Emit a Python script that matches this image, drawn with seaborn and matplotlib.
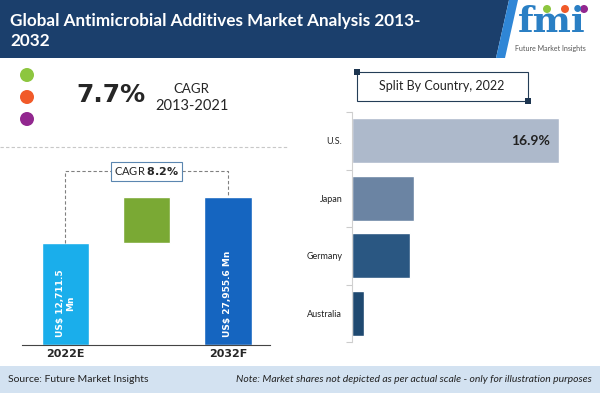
import numpy as np
import matplotlib
matplotlib.use('Agg')
import matplotlib.pyplot as plt
import seaborn as sns
import pandas as pd
from matplotlib.patches import Polygon, Rectangle, Ellipse

# data
years = ['2022E', '2032F']
market_value = [12711.5, 27955.6]          # US$ Mn
value_labels = ['US$ 12,711.5\nMn', 'US$ 27,955.6 Mn']
# bars are illustrative, not to scale: relative heights
shown_height = [1.0, 1.45]
bar_colors = ['#1aaeeb', '#1565c0']
growth_color = '#7aa934'
cagr_forecast = '8.2%'

countries = ['U.S.', 'Japan', 'Germany', 'Australia']
country_share = [16.9, 5.1, 4.7, 1.0]
country_colors = ['#adb9cb', '#6b84a3', '#2a5782', '#1f4970']

cagr_hist = '7.7%'
cagr_hist_period = '2013-2021'

sns.set_style('white')
plt.rcParams['font.family'] = ['Lato', 'DejaVu Sans']

W, H = 600, 393
fig = plt.figure(figsize=(6, 3.93), dpi=100)


def fx(px):
    return px / W


def fy(py):
    return 1 - py / H


def fpts(pts):
    return [(fx(a), fy(b)) for a, b in pts]


def dot(cx, cy, r, c):
    fig.patches.append(Ellipse((fx(cx), fy(cy)), 2 * r / W, 2 * r / H,
                               fc=c, ec='none', transform=fig.transFigure))


# header banner
fig.patches.append(Polygon(fpts([(0, 0), (509, 0), (496, 58), (0, 58)]),
                           closed=True, fc='#1b3f6c', ec='none',
                           transform=fig.transFigure))
fig.patches.append(Polygon(fpts([(509, 0), (518, 0), (505, 58), (496, 58)]),
                           closed=True, fc='#2f86d6', ec='none',
                           transform=fig.transFigure))
fig.text(fx(10), fy(21), 'Global Antimicrobial Additives Market Analysis 2013-',
         color='white', fontsize=12.3, weight='bold', va='center')
fig.text(fx(10), fy(41), '2032', color='white', fontsize=12.3,
         weight='bold', va='center')

# logo
fig.text(fx(552), fy(22), 'fmi', color='#2a7fc4', fontsize=26, weight='bold',
         family='DejaVu Serif', ha='center', va='center')
for cx, c in zip([547, 565, 584], ['#8dc63f', '#f15a29', '#92278f']):
    dot(cx, 9, 4, c)
fig.text(fx(550), fy(49), 'Future Market Insights', color='#555555',
         fontsize=5, ha='center', va='center')

# dots and historic CAGR
for cy, c in zip([75, 97, 119], ['#8dc63f', '#f15a29', '#92278f']):
    dot(27, cy, 7, c)
fig.text(fx(111), fy(95), cagr_hist, fontsize=18, weight='bold',
         family='DejaVu Sans', ha='center', va='center')
fig.text(fx(191), fy(89), 'CAGR', fontsize=9.5, ha='center', va='center')
fig.text(fx(192), fy(106), cagr_hist_period, fontsize=10.5, ha='center',
         va='center')
fig.lines.append(plt.Line2D([0, fx(287)], [fy(147), fy(147)],
                            transform=fig.transFigure, color='#c8c8c8',
                            lw=0.8, ls=(0, (3, 2))))

# left: market value waterfall
ax1 = fig.add_axes([fx(22), fy(345), (270 - 22) / W, (345 - 150) / H])
df_val = pd.DataFrame({'year': years, 'height': shown_height})
order = [years[0], ' ', years[1]]
sns.barplot(data=df_val, x='year', y='height', hue='year', order=order,
            palette=bar_colors, width=0.58, saturation=1, legend=False, ax=ax1)
ax1.bar(1, shown_height[1] - shown_height[0], bottom=shown_height[0],
        width=0.58, color=growth_color)
ax1.set_xlim(-0.535, 2.517)
ax1.set_ylim(0, 1.91)
for i, lab in zip([0, 2], value_labels):
    ax1.text(i, 0.08, lab, rotation=90, ha='center', va='bottom',
             multialignment='center', color='white', weight='bold',
             family='DejaVu Sans', fontsize=6.5)
top_line = max(shown_height) + 0.25
ax1.plot([0, 0, 2, 2], [shown_height[0], top_line, top_line, shown_height[1]],
         color='#808080', lw=0.8, ls=(0, (3, 2)), zorder=1)
ax1.text(1, top_line, 'CAGR ' + r'$\mathbf{' + cagr_forecast.replace('%', r'\%') + '}$',
         ha='center', va='center', fontsize=8,
         bbox=dict(boxstyle='square,pad=0.3', fc='white', ec='#5b86b0', lw=0.8))
ax1.set_xlabel('')
ax1.set_ylabel('')
ax1.set_yticks([])
ax1.set_xticks([0, 2])
ax1.set_xticklabels(years, weight='bold', fontsize=8, family='DejaVu Sans')
ax1.tick_params(axis='x', length=0, pad=3)
for s in ['top', 'right', 'left']:
    ax1.spines[s].set_visible(False)
ax1.spines['bottom'].set_color('#444444')
ax1.spines['bottom'].set_linewidth(0.8)

# right: split by country
ax2 = fig.add_axes([fx(352), fy(342), (570 - 352) / W, (342 - 112) / H])
df_c = pd.DataFrame({'country': countries, 'share': country_share})
sns.barplot(data=df_c, x='share', y='country', hue='country', orient='h',
            palette=country_colors, width=0.78, saturation=1, legend=False,
            ax=ax2)
ax2.set_ylim(3.5, -0.5)
ax2.set_xlim(0, 17.8)
ax2.text(country_share[0] - 0.7, 0, '%.1f%%' % country_share[0],
         ha='right', va='center', weight='bold', fontsize=10, color='#222222')
ax2.set_xlabel('')
ax2.set_ylabel('')
ax2.set_xticks([])
ax2.set_yticks(np.arange(len(countries) + 1) - 0.5, minor=True)
ax2.tick_params(axis='y', which='major', length=0, pad=7, labelsize=6.5,
                labelcolor='#222222')
ax2.tick_params(axis='y', which='minor', length=4, color='#cccccc',
                width=0.8, left=True)
for s in ['top', 'right', 'bottom']:
    ax2.spines[s].set_visible(False)
ax2.spines['left'].set_color('#d0d0d0')
ax2.spines['left'].set_linewidth(0.8)

# split box
fig.patches.append(Rectangle((fx(357), fy(101)), (528 - 357) / W, 29 / H,
                             fc='white', ec='#243d57', lw=0.8,
                             transform=fig.transFigure))
for px, py in [(357, 72), (528, 101)]:
    fig.patches.append(Rectangle((fx(px - 3), fy(py + 3)), 6 / W, 6 / H,
                                 fc='#1d3550', ec='none',
                                 transform=fig.transFigure))
fig.text(fx(442), fy(86), 'Split By Country, 2022', fontsize=9,
         ha='center', va='center', color='#222222')

# footer
fig.patches.append(Rectangle((0, 0), 1, (393 - 366) / H, fc='#d3e2f1',
                             ec='none', transform=fig.transFigure))
fig.text(fx(8), fy(380), 'Source: Future Market Insights', fontsize=7.5,
         va='center', color='#222222')
fig.text(fx(592), fy(380),
         'Note: Market shares not depicted as per actual scale - only for illustration purposes',
         fontsize=7.5, style='italic', ha='right', va='center', color='#222222')

fig.savefig('out.png', dpi=100)
